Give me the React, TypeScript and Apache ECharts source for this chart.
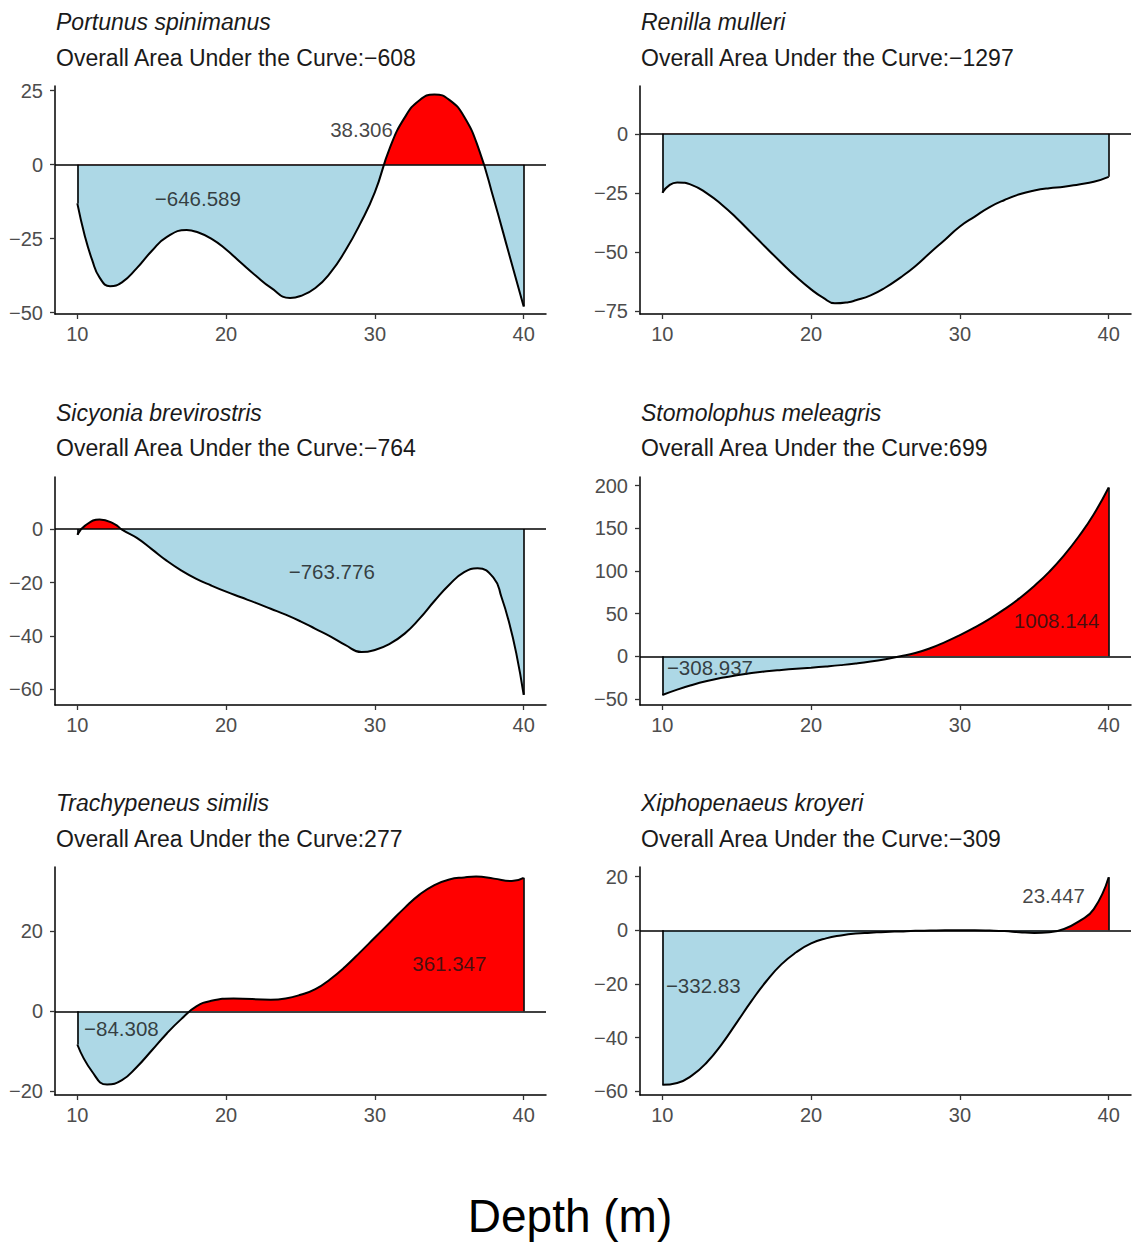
import { useEffect, useRef } from "react";
import * as echarts from "echarts";

const xTicks = [10, 20, 30, 40];

const speciesNames = [
  "Portunus spinimanus",
  "Renilla mulleri",
  "Sicyonia brevirostris",
  "Stomolophus meleagris",
  "Trachypeneus similis",
  "Xiphopenaeus kroyeri",
];
const overallAuc = [-608, -1297, -764, 699, 277, -309];

// Fitted response along depth (m); each species has its own depth samples
const portunusDepth = [
  10, 10.5, 11, 11.5, 12.2, 13, 14, 15, 16, 17.35, 18, 19, 20, 21, 22, 23, 24.3, 25, 26, 27, 28,
  29, 30, 31, 32, 33, 34, 35, 36, 37, 38, 39, 40,
];
const portunus = [
  -13.1, -24, -32.3, -38.2, -41.1, -39.8, -35, -29.2, -24.5, -22.1, -22.7, -25, -28.7, -33.2,
  -37.6, -41.6, -45.1, -44.4, -41.7, -36.6, -29.2, -20.1, -9.3, 5.6, 15.9, 21.8, 23.75, 21.9,
  16.2, 5, -11.8, -29.9, -48,
];

const renillaDepth = [
  10, 10.5, 11, 12, 13, 14, 15, 16, 17, 18, 19, 20, 20.8, 21.6, 22.5, 23, 24, 25, 26, 27, 28, 29,
  30, 31, 32, 33, 34, 35, 36, 37, 38, 39, 40,
];
const renilla = [
  -24.9, -21.6, -20.6, -21.7, -25.2, -30, -35.7, -42, -48.3, -54.5, -60.5, -65.8, -69.3, -71.7,
  -71.2, -70.4, -68.3, -65, -60.8, -56, -50.3, -44.8, -39.2, -35, -31, -28, -25.6, -24, -23,
  -22.4, -21.4, -20.3, -18.2,
];

const sicyoniaDepth = [
  10, 10.5, 11.5, 12.5, 13, 14, 15, 16, 17, 18, 19, 20, 21, 22, 23, 24, 25, 26, 27, 28, 29.1, 30,
  31, 32, 33, 34, 35, 36, 36.9, 38, 38.5, 39, 39.5, 40,
];
const sicyonia = [
  -2.1, 1.2, 3.6, 1.9, -0.2, -3.3, -7.5, -11.8, -15.5, -18.6, -21.1, -23.4, -25.5, -27.6, -29.8,
  -32, -34.5, -37.3, -40.1, -43.3, -46, -45.2, -42.9, -39.1, -33.5, -26.9, -20.8, -16.1, -14.65,
  -18.4, -25.3, -34.5, -46.4, -62,
];

const stomolophusDepth = [
  10, 11, 12, 13, 14, 15, 16, 17, 18, 19, 20, 21, 22, 23, 24, 25, 26, 27, 28, 29, 30, 31, 32, 33,
  34, 35, 36, 37, 38, 39, 40,
];
const stomolophus = [
  -45.3, -39, -33.6, -29, -25.2, -22.1, -19.6, -17.6, -16, -14.6, -13.3, -11.9, -10.3, -8.4,
  -6.1, -3.3, 0, 3.8, 9.4, 16.6, 24.8, 33.8, 43.9, 55.2, 67.9, 82.4, 98.9, 118.2, 140.6, 166.4,
  197.7,
];

const trachypeneusDepth = [
  10, 11, 12, 13, 14, 15, 16, 17, 18, 19, 20.5, 23, 24, 25, 26, 27, 28, 29, 30, 31, 32, 33, 34,
  35, 36, 36.8, 38, 39.2, 40,
];
const trachypeneus = [
  -8.3, -15.1, -18.3, -17.2, -13.9, -9.8, -5.6, -1.9, 1.2, 2.6, 3.2, 2.9, 3.2, 4.1, 5.5, 8, 11.1,
  14.7, 18.4, 22.1, 25.8, 29.1, 31.5, 32.9, 33.4, 33.6, 33.1, 32.5, 33.3,
];

const xiphopenaeusDepth = [
  10, 11, 12, 13, 14, 15, 16, 17, 18, 19, 20, 21, 22, 23, 24, 25, 26, 27, 28, 29, 30, 31, 32, 33,
  34, 35, 36, 37, 38, 39, 40,
];
const xiphopenaeus = [
  -57.6, -56.9, -54.1, -49.2, -42.4, -34.4, -26.3, -18.9, -12.7, -8.2, -4.9, -3, -1.9, -1.2,
  -0.9, -0.6, -0.4, -0.2, -0.1, 0, 0, 0, -0.1, -0.3, -0.7, -1, -0.7, 0.5, 3.3, 7.9, 19.8,
];

// Partial areas: [depth, response, area]
const portunusAreas = [
  [29.1, 11.9, 38.306],
  [18.1, -11.6, -646.589],
];
const renillaAreas: number[][] = [];
const sicyoniaAreas = [[27.1, -15.9, -763.776]];
const stomolophusAreas = [
  [36.5, 41.5, 1008.144],
  [13.2, -12.8, -308.937],
];
const trachypeneusAreas = [
  [35.0, 11.8, 361.347],
  [12.96, -4.2, -84.308],
];
const xiphopenaeusAreas = [
  [36.3, 12.9, 23.447],
  [12.75, -20.4, -332.83],
];

// Response axis ticks and limits
const portunusTicks = [-50, -25, 0, 25];
const renillaTicks = [-75, -50, -25, 0];
const sicyoniaTicks = [-60, -40, -20, 0];
const stomolophusTicks = [-50, 0, 50, 100, 150, 200];
const trachypeneusTicks = [-20, 0, 20];
const xiphopenaeusTicks = [-60, -40, -20, 0, 20];

const portunusRange = [-50.5, 26.6];
const renillaRange = [-76.2, 20.2];
const sicyoniaRange = [-65.8, 19.5];
const stomolophusRange = [-57, 210];
const trachypeneusRange = [-20.9, 36];
const xiphopenaeusRange = [-61.4, 23.6];

const depthList = [
  portunusDepth,
  renillaDepth,
  sicyoniaDepth,
  stomolophusDepth,
  trachypeneusDepth,
  xiphopenaeusDepth,
];
const valuesList = [portunus, renilla, sicyonia, stomolophus, trachypeneus, xiphopenaeus];
const areasList = [
  portunusAreas,
  renillaAreas,
  sicyoniaAreas,
  stomolophusAreas,
  trachypeneusAreas,
  xiphopenaeusAreas,
];
const ticksList = [
  portunusTicks,
  renillaTicks,
  sicyoniaTicks,
  stomolophusTicks,
  trachypeneusTicks,
  xiphopenaeusTicks,
];
const rangeList = [
  portunusRange,
  renillaRange,
  sicyoniaRange,
  stomolophusRange,
  trachypeneusRange,
  xiphopenaeusRange,
];

const FONT = '"Liberation Sans", Arial, Helvetica, sans-serif';
const minus = (v: number | string) => String(v).replace("-", "\u2212");

function buildOption() {
  const grids: any[] = [];
  const xAxes: any[] = [];
  const yAxes: any[] = [];
  const series: any[] = [];
  const visualMaps: any[] = [];
  const graphics: any[] = [];

  const colLeft = [55, 640];
  const rowTop = [86, 477, 867];
  const rowTitle = [22, 412.5, 803];

  speciesNames.forEach((name, i) => {
    const col = i % 2;
    const row = Math.floor(i / 2);
    const depth = depthList[i];
    const values = valuesList[i];
    grids.push({
      left: colLeft[col],
      top: rowTop[row],
      width: 491,
      height: 228,
      outerBoundsMode: "none",
    });
    xAxes.push({
      type: "value",
      gridIndex: i,
      min: 8.5,
      max: 41.5,
      axisLine: { show: true, onZero: false, lineStyle: { color: "#000", width: 1.5 } },
      axisTick: {
        show: true,
        length: 5,
        customValues: xTicks,
        lineStyle: { color: "#333", width: 1.3 },
      },
      axisLabel: {
        customValues: xTicks,
        color: "#4d4d4d",
        fontSize: 20,
        fontFamily: FONT,
        margin: 10,
      },
      splitLine: { show: false },
    });
    yAxes.push({
      type: "value",
      gridIndex: i,
      min: rangeList[i][0],
      max: rangeList[i][1],
      axisLine: { show: true, onZero: false, lineStyle: { color: "#000", width: 1.5 } },
      axisTick: {
        show: true,
        length: 5,
        customValues: ticksList[i],
        lineStyle: { color: "#333", width: 1.3 },
      },
      axisLabel: {
        customValues: ticksList[i],
        color: "#4d4d4d",
        fontSize: 20,
        fontFamily: FONT,
        margin: 12,
        formatter: (v: number) => minus(v),
      },
      splitLine: { show: false },
    });

    const curveIndex = series.length;
    const x0 = depth[0];
    const x1 = depth[depth.length - 1];
    series.push({
      type: "line",
      xAxisIndex: i,
      yAxisIndex: i,
      data: depth.map((d, k) => [d, values[k]]),
      smooth: 0.5,
      showSymbol: false,
      symbol: "none",
      lineStyle: { color: "#000", width: 2 },
      areaStyle: { opacity: 1, origin: 0 },
      z: 2,
      markLine: {
        silent: true,
        symbol: ["none", "none"],
        label: { show: false },
        lineStyle: { color: "#000", width: 1.6, type: "solid" },
        data: [
          { yAxis: 0 },
          [{ coord: [x0, 0] }, { coord: [x0, values[0]] }],
          [{ coord: [x1, 0] }, { coord: [x1, values[values.length - 1]] }],
        ],
      },
    });
    // Area below zero in light blue, above zero in red
    visualMaps.push({
      type: "piecewise",
      show: false,
      seriesIndex: curveIndex,
      dimension: 1,
      pieces: [
        { min: -10000, max: 0, color: "#ADD8E6" },
        { min: 0, max: 10000, color: "#FF0000" },
      ],
    });
    series.push({
      type: "scatter",
      xAxisIndex: i,
      yAxisIndex: i,
      data: areasList[i],
      symbolSize: 1,
      itemStyle: { color: "rgba(0,0,0,0)" },
      z: 5,
      silent: true,
      label: {
        show: true,
        position: "inside",
        formatter: (p: any) => minus(p.value[2]),
        color: "#141414",
        fontSize: 20.5,
        fontFamily: FONT,
      },
    });

    graphics.push({
      type: "text",
      x: colLeft[col] + 1,
      y: rowTitle[row],
      style: {
        text: name,
        fill: "#1a1a1a",
        fontSize: 23,
        fontStyle: "italic",
        fontFamily: FONT,
        verticalAlign: "middle",
      },
    });
    graphics.push({
      type: "text",
      x: colLeft[col] + 1,
      y: rowTitle[row] + 35.7,
      style: {
        text: "Overall Area Under the Curve:" + minus(overallAuc[i]),
        fill: "#1a1a1a",
        fontSize: 23,
        fontFamily: FONT,
        verticalAlign: "middle",
      },
    });
  });

  graphics.push({
    type: "text",
    x: 570,
    y: 1216,
    style: {
      text: "Depth (m)",
      fill: "#000",
      fontSize: 46,
      fontFamily: FONT,
      align: "center",
      verticalAlign: "middle",
    },
  });

  return {
    animation: false,
    backgroundColor: "#fff",
    textStyle: { fontFamily: FONT },
    grid: grids,
    xAxis: xAxes,
    yAxis: yAxes,
    visualMap: visualMaps,
    series,
    graphic: graphics,
  };
}

export default function App() {
  const ref = useRef<HTMLDivElement>(null);
  useEffect(() => {
    if (!ref.current) return;
    const chart = echarts.init(ref.current, undefined, { renderer: "svg" });
    chart.setOption(buildOption() as any);
    return () => chart.dispose();
  }, []);
  return (
    <div
      ref={ref}
      style={{ position: "absolute", left: 0, top: 0, width: 1133, height: 1242 }}
    />
  );
}
